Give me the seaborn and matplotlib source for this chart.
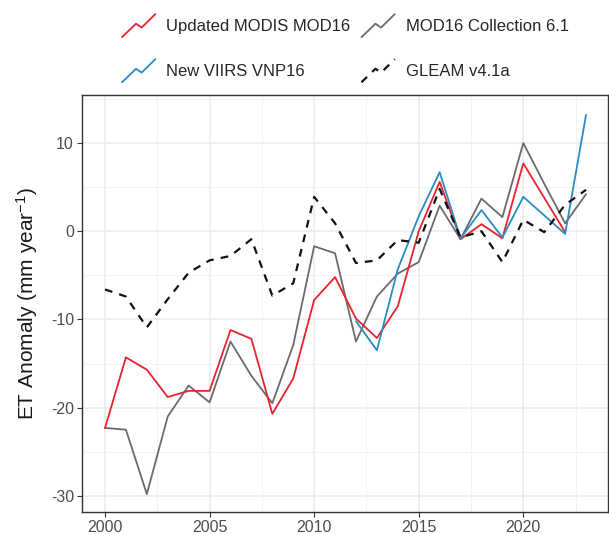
import matplotlib
matplotlib.use('Agg')
import matplotlib.pyplot as plt
import numpy as np
import pandas as pd
import seaborn as sns
from matplotlib.legend_handler import HandlerBase
from matplotlib.lines import Line2D
from matplotlib.ticker import MultipleLocator

# values (mm / year anomaly)
years = list(range(2000, 2024))
modis_updated = [-22.3, -14.3, -15.7, -18.8, -18.1, -18.1, -11.2, -12.2, -20.7, -16.7, -7.8, -5.2,
                 -9.9, -12.1, -8.5, 0.0, 5.6, -0.9, 0.8, -0.8, 7.7, 3.8, -0.1]
modis_c61 = [-22.3, -22.5, -29.8, -21.0, -17.5, -19.4, -12.5, -16.4, -19.5, -12.9, -1.7, -2.5,
             -12.5, -7.4, -4.8, -3.5, 2.9, -0.9, 3.7, 1.6, 10.0, 5.4, 0.9, 4.2]
viirs_years = list(range(2012, 2024))
viirs = [-10.2, -13.5, -4.3, 1.7, 6.7, -0.8, 2.4, -0.7, 3.9, 1.8, -0.3, 13.2]
gleam = [-6.6, -7.4, -10.9, -7.7, -4.7, -3.3, -2.8, -0.9, -7.3, -5.9, 3.9, 0.9,
         -3.6, -3.3, -1.0, -1.3, 4.8, -0.7, 0.0, -3.5, 1.3, -0.1, 3.0, 4.7]

labels = ['Updated MODIS MOD16', 'New VIIRS VNP16', 'MOD16 Collection 6.1', 'GLEAM v4.1a']
colors = {'Updated MODIS MOD16': '#e8232e', 'New VIIRS VNP16': '#2a8cc0',
          'MOD16 Collection 6.1': '#6b6b6b', 'GLEAM v4.1a': '#111111'}

df = pd.concat([
    pd.DataFrame({'year': years, 'et': modis_c61, 'product': 'MOD16 Collection 6.1'}),
    pd.DataFrame({'year': years[:len(modis_updated)], 'et': modis_updated, 'product': 'Updated MODIS MOD16'}),
    pd.DataFrame({'year': viirs_years, 'et': viirs, 'product': 'New VIIRS VNP16'}),
    pd.DataFrame({'year': years, 'et': gleam, 'product': 'GLEAM v4.1a'}),
])


class ZigzagHandler(HandlerBase):
    # legend key drawn as a small zigzag, like the ggplot original
    def create_artists(self, legend, orig_handle, xdescent, ydescent, width, height, fontsize, trans):
        xs = np.array([0.0, 0.42, 0.59, 1.0]) * width - xdescent
        ys = np.array([-0.1, 0.6, 0.4, 1.1]) * height - ydescent
        line = Line2D(xs, ys)
        line.update_from(orig_handle)
        line.set_data(xs, ys)
        line.set_clip_on(False)
        line.set_clip_box(None)
        line.set_clip_path(None)
        line.set_transform(trans)
        return [line]


sns.set_theme(style='white')
plt.rcParams['font.family'] = ['Liberation Sans', 'DejaVu Sans']
plt.rcParams['mathtext.fontset'] = 'custom'
plt.rcParams['mathtext.rm'] = 'Liberation Sans'
plt.rcParams['mathtext.it'] = 'Liberation Sans'
plt.rcParams['axes.unicode_minus'] = False

fig = plt.figure(figsize=(6.09, 5.34), dpi=100)
ax = fig.add_axes([82 / 609, (534 - 511.7) / 534, 526 / 609, 416.7 / 534])

for name in ['MOD16 Collection 6.1', 'Updated MODIS MOD16', 'New VIIRS VNP16', 'GLEAM v4.1a']:
    sub = df[df['product'] == name]
    if name == 'GLEAM v4.1a':
        sns.lineplot(data=sub, x='year', y='et', color=colors[name], lw=1.6,
                     linestyle=(0, (3.5, 3.2)), label=name, ax=ax)
    else:
        sns.lineplot(data=sub, x='year', y='et', color=colors[name], lw=1.3, label=name, ax=ax)

ax.set_xlim(1998.9, 2024.05)
ax.set_ylim(-31.8, 15.45)
ax.xaxis.set_major_locator(MultipleLocator(5))
ax.xaxis.set_minor_locator(MultipleLocator(2.5))
ax.yaxis.set_major_locator(MultipleLocator(10))
ax.yaxis.set_minor_locator(MultipleLocator(5))
ax.grid(which='major', color='#ebebeb', lw=1.1)
ax.grid(which='minor', color='#f2f2f2', lw=0.7)
ax.set_axisbelow(True)
for sp in ax.spines.values():
    sp.set_visible(True)
    sp.set_color('#333333')
    sp.set_linewidth(1.0)
ax.tick_params(which='major', direction='out', length=3.6, width=0.8, color='#333333',
               labelcolor='#4d4d4d', labelsize=11.5, pad=2.2, bottom=True, left=True)
ax.tick_params(which='minor', length=0)

ax.set_xlabel('')
ax.set_ylabel(r'ET Anomaly (mm year$^{-1}$)', fontsize=15, color='#1a1a1a', labelpad=8)

handles, labs = ax.get_legend_handles_labels()
by_label = dict(zip(labs, handles))
ax.legend([by_label[l] for l in labels], labels, ncol=2, frameon=False, fontsize=12,
          loc='upper left', bbox_to_anchor=(122 / 609, 1 - 16 / 534), bbox_transform=fig.transFigure,
          borderaxespad=0, borderpad=0, handlelength=2.0, handleheight=1.4, handletextpad=0.66,
          columnspacing=0.66, labelspacing=1.55, handler_map={Line2D: ZigzagHandler()})

fig.savefig('out.png', dpi=100)
